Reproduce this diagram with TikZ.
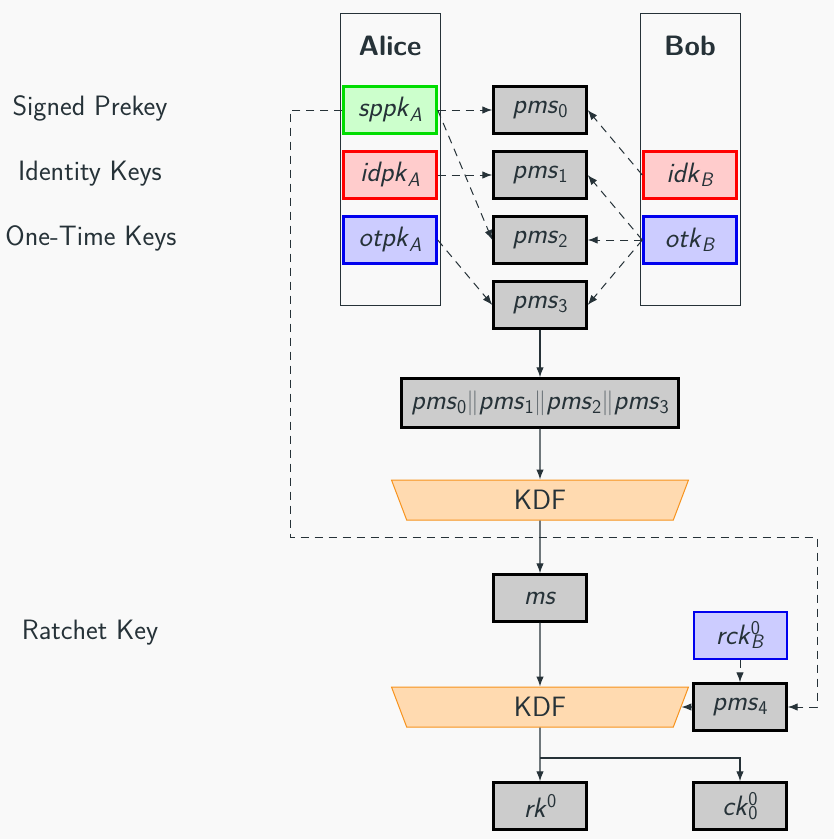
\documentclass[tikz,border=0pt]{standalone}
\usetikzlibrary{arrows.meta,shapes.geometric}
\definecolor{ink}{HTML}{263238}
\definecolor{bg}{HTML}{F9F9F9}
\definecolor{boxgray}{HTML}{CCCCCC}
\definecolor{kgreen}{HTML}{00DD00}
\definecolor{kgreenf}{HTML}{CCFFCC}
\definecolor{kred}{HTML}{FF0000}
\definecolor{kredf}{HTML}{FFCCCC}
\definecolor{kblue}{HTML}{0000EE}
\definecolor{kbluef}{HTML}{CCCCFF}
\definecolor{kdff}{HTML}{FFDAB0}
\definecolor{kdfd}{HTML}{F7931E}
\newcommand\lo[1]{\raisebox{-0.35ex}{\fontsize{19.5}{22}\selectfont #1}}
\newcommand\hi[1]{\raisebox{0.8ex}{\fontsize{19.5}{22}\selectfont #1}}
\begin{document}
\begin{tikzpicture}[x=1pt,y=-1pt,
  font={\sffamily\fontsize{28}{33}\selectfont}, text=ink,
  keybox/.style={minimum width=93pt, minimum height=47pt, inner sep=0pt, line width=2.4pt},
  pmsbox/.style={keybox, draw=black, fill=boxgray},
  greenbox/.style={keybox, draw=kgreen, fill=kgreenf},
  redbox/.style={keybox, draw=kred, fill=kredf},
  bluebox/.style={keybox, draw=kblue, fill=kbluef},
  colbox/.style={draw=ink, line width=1pt, minimum width=100pt, minimum height=292pt, inner sep=0pt},
  kdfbox/.style={trapezium, shape border rotate=180, trapezium stretches body,
    trapezium left angle=52, trapezium right angle=52, minimum width=297pt,
    minimum height=40pt, fill=kdff, draw=kdfd, line width=1pt, inner sep=0pt},
  conn/.style={draw=ink, line width=1.2pt, -{Latex[length=10pt,width=7.5pt]}},
  dconn/.style={conn, line width=1pt, dash pattern=on 8pt off 6pt},
  boldlbl/.style={font={\sffamily\bfseries\fontsize{28}{33}\selectfont}}
]
\fill[bg] (0,0) rectangle (834,839);
\useasboundingbox (0,0) rectangle (834,839);

% side labels
\node (lsp) at (90,108) {Signed Prekey};
\node (lid) at (90,174) {Identity Keys};
\node (lot) at (91,238) {One-Time Keys};
\node (lrk) at (90,633) {Ratchet Key};

% columns
\node[colbox] (alicecol) at (390,159) {};
\node[colbox] (bobcol) at (690,159) {};
\node[boldlbl] (alice) at (390,46) {Alice};
\node[boldlbl] (bob) at (690,46) {Bob};

% Alice keys
\node[greenbox] (sppk) at (390,110) {\textit{sppk}\lo{\textit{A}}};
\node[redbox] (idpk) at (390,175) {\textit{idpk}\lo{\textit{A}}};
\node[bluebox] (otpk) at (390,240) {\textit{otpk}\lo{\textit{A}}};

% Bob keys
\node[redbox] (idk) at (690,175) {\textit{idk}\lo{\textit{B}}};
\node[bluebox] (otk) at (690,240) {\textit{otk}\lo{\textit{B}}};

% pms
\node[pmsbox] (pms0) at (540,110) {\textit{pms}\lo{0}};
\node[pmsbox] (pms1) at (540,175) {\textit{pms}\lo{1}};
\node[pmsbox] (pms2) at (540,240) {\textit{pms}\lo{2}};
\node[pmsbox] (pms3) at (540,305) {\textit{pms}\lo{3}};

\node[pmsbox, minimum width=277pt, minimum height=49pt] (cat) at (540,403)
  {\textit{pms}\lo{0}{\color{ink!70}$\|$}\textit{pms}\lo{1}{\color{ink!70}$\|$}\textit{pms}\lo{2}{\color{ink!70}$\|$}\textit{pms}\lo{3}};

\node[kdfbox] (kdf1) at (540,500) {KDF};
\node[pmsbox] (ms) at (540,598) {\textit{ms}};
\node[bluebox, line width=2pt] (rck) at (740,635) {\textit{rck}\rlap{\hi{0}}\lo{\textit{B}}};
\node[kdfbox] (kdf2) at (540,707) {KDF};
\node[pmsbox] (pms4) at (740,707) {\textit{pms}\lo{4}};
\node[pmsbox] (rk) at (540,806) {\textit{rk}\hi{0}};
\node[pmsbox] (ck) at (740,806) {\textit{ck}\rlap{\hi{0}}\lo{0}};

% dashed key connections
\draw[dconn] (sppk.east) -- (pms0.west);
\draw[dconn] (sppk.east) -- (pms2.west);
\draw[dconn] (idpk.east) -- (pms1.west);
\draw[dconn] (otpk.east) -- (pms3.west);
\draw[dconn] (idk.west) -- (pms0.east);
\draw[dconn] (otk.west) -- (pms1.east);
\draw[dconn] (otk.west) -- (pms2.east);
\draw[dconn] (otk.west) -- (pms3.east);

% long dashed loop
\coordinate (lc1) at (290,537);
\coordinate (lc2) at (817,707);
\draw[dconn] (sppk.west) -| (lc1) -| (lc2) -- (pms4.east);

% solid flow
\draw[conn] (pms3.south) -- (cat.north);
\draw[conn] (cat.south) -- (kdf1.north);
\draw[conn] (kdf1.south) -- (ms.north);
\draw[conn] (ms.south) -- (kdf2.north);
\draw[dconn] (rck.south) -- (pms4.north);
\draw[conn] (pms4.west) -- (kdf2.east);
\draw[conn] (kdf2.south) -- (rk.north);
\coordinate (br) at (540,758);
\draw[conn] (br) -| (ck.north);
\end{tikzpicture}
\end{document}
